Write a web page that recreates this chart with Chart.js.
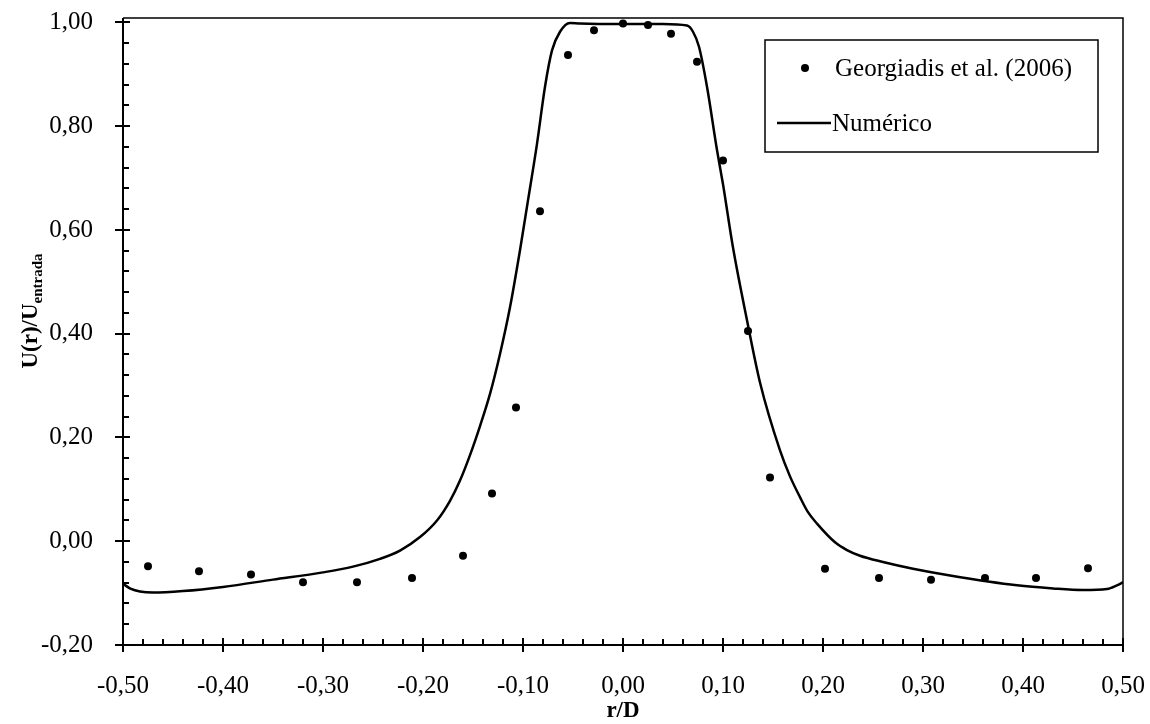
<!DOCTYPE html>
<html><head><meta charset="utf-8">
<script src="https://cdn.jsdelivr.net/npm/chart.js@4.4.0/dist/chart.umd.min.js"></script>
<style>html,body{margin:0;padding:0;background:#fff;} canvas{display:block;}</style>
</head><body>
<canvas id="c" width="1150" height="724"></canvas>
<script>
const FONT = '"Liberation Serif", "Times New Roman", serif';

// Experimental points: Georgiadis et al. (2006)
const expX = [-0.475, -0.424, -0.372, -0.320, -0.266, -0.211, -0.160, -0.131, -0.107, -0.083, -0.055, -0.029, 0.000, 0.025, 0.048, 0.074, 0.100, 0.125, 0.147, 0.202, 0.256, 0.308, 0.362, 0.413, 0.465];
const expY = [-0.048, -0.058, -0.064, -0.079, -0.079, -0.071, -0.028, 0.092, 0.258, 0.636, 0.937, 0.985, 0.998, 0.995, 0.978, 0.924, 0.734, 0.405, 0.123, -0.053, -0.071, -0.074, -0.071, -0.071, -0.052];

// Numerical curve: Numérico
const numX = [-0.500, -0.492, -0.483, -0.470, -0.440, -0.400, -0.350, -0.300, -0.270, -0.243, -0.223, -0.203, -0.186, -0.173, -0.163, -0.153, -0.143, -0.133, -0.123, -0.113, -0.103, -0.095, -0.086, -0.078, -0.071, -0.063, -0.053, -0.043, 0.000, 0.040, 0.064, 0.070, 0.076, 0.084, 0.094, 0.100, 0.110, 0.124, 0.137, 0.157, 0.167, 0.177, 0.185, 0.194, 0.212, 0.224, 0.237, 0.260, 0.290, 0.327, 0.394, 0.430, 0.460, 0.484, 0.494, 0.500];
const numY = [-0.082, -0.092, -0.097, -0.099, -0.096, -0.088, -0.074, -0.060, -0.049, -0.034, -0.018, 0.008, 0.040, 0.078, 0.117, 0.166, 0.222, 0.284, 0.361, 0.451, 0.561, 0.657, 0.766, 0.876, 0.946, 0.982, 0.999, 0.998, 0.997, 0.997, 0.994, 0.982, 0.953, 0.876, 0.754, 0.688, 0.566, 0.426, 0.306, 0.175, 0.125, 0.085, 0.056, 0.034, -0.002, -0.017, -0.028, -0.040, -0.053, -0.066, -0.085, -0.091, -0.094, -0.092, -0.085, -0.079];

const xTicks = [-0.5, -0.4, -0.3, -0.2, -0.1, 0.0, 0.1, 0.2, 0.3, 0.4, 0.5];
const yTicks = [-0.2, 0.0, 0.2, 0.4, 0.6, 0.8, 1.0];
const seriesNames = ['Georgiadis et al. (2006)', 'Numérico'];
const xTitle = 'r/D';
const yTitleMain = 'U(r)/U';
const yTitleSub = 'entrada';

function fmt(v){ let r = Math.round(v*100)/100; if (r === 0) r = 0; return r.toFixed(2).replace('.', ','); }

const framePlugin = {
  id: 'frame',
  afterDraw(chart){
    const {ctx, chartArea: a, scales: {x, y}} = chart;
    ctx.save();
    ctx.strokeStyle = '#000';
    ctx.fillStyle = '#000';
    // top & right border
    ctx.lineWidth = 1.5;
    ctx.beginPath(); ctx.moveTo(a.left, a.top); ctx.lineTo(a.right, a.top); ctx.lineTo(a.right, a.bottom); ctx.stroke();
    // axes
    ctx.lineWidth = 2;
    ctx.beginPath(); ctx.moveTo(a.left, a.top); ctx.lineTo(a.left, a.bottom); ctx.lineTo(a.right, a.bottom); ctx.stroke();
    // y ticks
    ctx.lineWidth = 2;
    for (let i = 0; i <= 30; i++) {
      const v = -0.2 + i * 0.04;
      const p = Math.round(y.getPixelForValue(v));
      ctx.beginPath();
      if (i % 5 === 0) { ctx.moveTo(a.left - 8, p); ctx.lineTo(a.left + 7, p); }
      else { ctx.moveTo(a.left, p); ctx.lineTo(a.left + 6, p); }
      ctx.stroke();
    }
    // x ticks
    for (let i = 0; i <= 50; i++) {
      const v = -0.5 + i * 0.02;
      const p = Math.round(x.getPixelForValue(v));
      ctx.beginPath();
      if (i % 5 === 0) { ctx.moveTo(p, a.bottom - 7); ctx.lineTo(p, a.bottom + 7); }
      else { ctx.moveTo(p, a.bottom - 6); ctx.lineTo(p, a.bottom); }
      ctx.stroke();
    }
    // legend
    ctx.lineWidth = 1.5;
    ctx.fillStyle = '#fff';
    ctx.fillRect(765, 40, 333, 112);
    ctx.strokeRect(765, 40, 333, 112);
    ctx.fillStyle = '#000';
    ctx.beginPath(); ctx.arc(805, 68, 4, 0, Math.PI * 2); ctx.fill();
    ctx.font = '25px ' + FONT;
    ctx.textBaseline = 'middle';
    ctx.textAlign = 'left';
    ctx.fillText(seriesNames[0], 835, 69);
    ctx.lineWidth = 2.5;
    ctx.beginPath(); ctx.moveTo(777, 123); ctx.lineTo(831, 123); ctx.stroke();
    ctx.fillText(seriesNames[1], 832, 124);
    // y title
    ctx.font = 'bold 23px ' + FONT;
    const w1 = ctx.measureText(yTitleMain).width;
    ctx.font = 'bold 15px ' + FONT;
    const w2 = ctx.measureText(yTitleSub).width;
    ctx.translate(37, 311 + (w1 + w2) / 2);
    ctx.rotate(-Math.PI / 2);
    ctx.textBaseline = 'alphabetic';
    ctx.font = 'bold 23px ' + FONT;
    ctx.fillText(yTitleMain, 0, 0);
    ctx.font = 'bold 15px ' + FONT;
    ctx.fillText(yTitleSub, w1, 5);
    ctx.restore();
  }
};

new Chart(document.getElementById('c'), {
  type: 'scatter',
  data: {
    datasets: [
      {
        label: seriesNames[0],
        data: expX.map((v, i) => ({x: v, y: expY[i]})),
        pointRadius: 4, pointHoverRadius: 4,
        pointBackgroundColor: '#000', pointBorderWidth: 0,
        showLine: false
      },
      {
        label: seriesNames[1],
        data: numX.map((v, i) => ({x: v, y: numY[i]})),
        pointRadius: 0, pointHoverRadius: 0,
        showLine: true, borderColor: '#000', borderWidth: 2.5,
        cubicInterpolationMode: 'monotone'
      }
    ]
  },
  options: {
    responsive: false,
    animation: false,
    layout: {padding: {top: 18, right: 27, left: 0, bottom: 0}},
    plugins: {legend: {display: false}, tooltip: {enabled: false}},
    scales: {
      x: {
        type: 'linear', min: -0.5, max: 0.5,
        afterBuildTicks: s => { s.ticks = xTicks.map(v => ({value: v})); },
        afterFit: s => { s.height = 79; s.paddingLeft = 0; s.paddingRight = 0; },
        grid: {display: false}, border: {display: false},
        ticks: {color: '#000', font: {family: FONT, size: 25}, padding: 18, maxRotation: 0, autoSkip: false, callback: v => fmt(v)},
        title: {display: true, text: xTitle, color: '#000', font: {family: FONT, size: 23, weight: 'bold', lineHeight: 1.0}, padding: {top: 0, bottom: 1}}
      },
      y: {
        type: 'linear', min: -0.2, max: 1.0085,
        afterBuildTicks: s => { s.ticks = yTicks.map(v => ({value: v})); },
        afterFit: s => { s.width = 123; s.paddingTop = 0; s.paddingBottom = 0; },
        grid: {display: false}, border: {display: false},
        ticks: {color: '#000', font: {family: FONT, size: 25}, padding: 22, autoSkip: false, callback: v => fmt(v)}
      }
    }
  },
  plugins: [framePlugin]
});
</script>
</body></html>
